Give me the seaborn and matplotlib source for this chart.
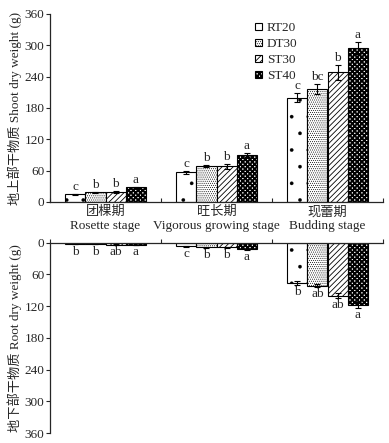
import matplotlib
matplotlib.use("Agg")
import matplotlib.pyplot as plt
import seaborn as sns
import pandas as pd
import numpy as np

stages = ["团棵期\nRosette stage", "旺长期\nVigorous growing stage", "现蕾期\nBudding stage"]
treatments = ["RT20", "DT30", "ST30", "ST40"]

shoot_RT20 = [15, 57, 200]
shoot_DT30 = [19, 69, 216]
shoot_ST30 = [19, 68, 248]
shoot_ST40 = [28, 90, 295]
shoot_err_RT20 = [1, 3, 8]
shoot_err_DT30 = [1, 2, 10]
shoot_err_ST30 = [1.5, 4, 15]
shoot_err_ST40 = [1, 4, 12]
shoot_letters_RT20 = ["c", "c", "c"]
shoot_letters_DT30 = ["b", "b", "bc"]
shoot_letters_ST30 = ["b", "b", "b"]
shoot_letters_ST40 = ["a", "a", "a"]

root_RT20 = [3, 7, 76]
root_DT30 = [3, 9, 81]
root_ST30 = [3.5, 9, 100]
root_ST40 = [4, 12, 118]
root_err_RT20 = [0.3, 1, 4]
root_err_DT30 = [0.3, 1, 3]
root_err_ST30 = [0.3, 1, 4]
root_err_ST40 = [0.4, 1, 5]
root_letters_RT20 = ["b", "c", "b"]
root_letters_DT30 = ["b", "b", "ab"]
root_letters_ST30 = ["ab", "b", "ab"]
root_letters_ST40 = ["a", "a", "a"]

yticks = [0, 60, 120, 180, 240, 300, 360]

sns.set_theme(style="ticks")
plt.rcParams["font.family"] = ["Liberation Serif", "Noto Sans CJK SC"]
plt.rcParams["hatch.linewidth"] = 0.5
plt.rcParams["axes.linewidth"] = 0.9

hatches = [".", "........", "//////", "xxxxxxx"]
hatch_lw = [0.2, 0.4, 0.6, 1.4]
FS = 9.5

def long_df(vals, errs, letters):
    rows = []
    for t, v, e, l in zip(treatments, vals, errs, letters):
        for s, vv, ee, ll in zip(stages, v, e, l):
            rows.append(dict(stage=s, trt=t, val=vv, err=ee, let=ll))
    return pd.DataFrame(rows)

shoot = long_df([shoot_RT20, shoot_DT30, shoot_ST30, shoot_ST40],
                [shoot_err_RT20, shoot_err_DT30, shoot_err_ST30, shoot_err_ST40],
                [shoot_letters_RT20, shoot_letters_DT30, shoot_letters_ST30, shoot_letters_ST40])
root = long_df([root_RT20, root_DT30, root_ST30, root_ST40],
               [root_err_RT20, root_err_DT30, root_err_ST30, root_err_ST40],
               [root_letters_RT20, root_letters_DT30, root_letters_ST30, root_letters_ST40])

fig = plt.figure(figsize=(3.89, 4.43), dpi=100)
W, H = 389, 443
ax1 = fig.add_axes([50 / W, 241 / H, 333 / W, 188 / H])
ax2 = fig.add_axes([50 / W, 10 / H, 333 / W, 190.3 / H])

def style_patch(p, i):
    p.set_hatch(hatches[i])
    if hasattr(p, "set_hatch_linewidth"):
        p.set_hatch_linewidth(hatch_lw[i])

def draw(ax, df, below):
    sns.barplot(data=df, x="stage", y="val", hue="trt", order=stages, hue_order=treatments,
                palette=["white"] * 4, edgecolor="black", linewidth=0.8, width=0.73,
                errorbar=None, ax=ax, legend=not below)
    for i, (cont, t) in enumerate(zip(ax.containers, treatments)):
        sub = df[df.trt == t].set_index("stage").loc[stages]
        for bar, (_, r) in zip(cont, sub.iterrows()):
            style_patch(bar, i)
            cx = bar.get_x() + bar.get_width() / 2
            ax.errorbar(cx, r.val, yerr=r.err, color="black", capsize=2.2, elinewidth=0.8,
                        capthick=0.8, fmt="none")
            if below:
                ax.text(cx, r.val + r.err + 2, r.let, ha="center", va="top", fontsize=FS)
            else:
                ax.text(cx, r.val + r.err + 2, r.let, ha="center", va="bottom", fontsize=FS)
    ax.set_xlim(-0.5, 2.5)
    ax.set_ylim(0, 360)
    ax.set_yticks(yticks)
    ax.tick_params(axis="y", direction="out", length=3, width=0.8, labelsize=FS, pad=1)
    ax.set_xticks([-0.5, 0.5, 1.5, 2.5], minor=True)

draw(ax1, shoot, False)
draw(ax2, root, True)

ax1.set_xlabel("")
ax1.set_ylabel("地上部干物质 Shoot dry weight (g)", fontsize=FS, labelpad=2)
ax1.tick_params(axis="x", which="major", length=0, labelsize=FS, pad=3)
ax1.tick_params(axis="x", which="minor", direction="in", length=3, width=0.8)
ax1.spines["top"].set_visible(False)
ax1.spines["right"].set_visible(False)
for lab in ax1.get_xticklabels():
    lab.set_linespacing(1.2)

leg = ax1.legend(loc="upper left", bbox_to_anchor=(0.6, 0.985), frameon=False, fontsize=FS,
                 handlelength=0.5, handleheight=0.5, handletextpad=0.4, labelspacing=0.3,
                 borderaxespad=0)
for i, h in enumerate(leg.legend_handles):
    style_patch(h, i)
    h.set_edgecolor("black")
    h.set_facecolor("white")

ax2.invert_yaxis()
ax2.set_xlabel("")
ax2.set_ylabel("地下部干物质 Root dry weight (g)", fontsize=FS, labelpad=2)
ax2.set_xticks([0, 1, 2])
ax2.set_xticklabels([])
ax2.tick_params(axis="x", which="major", length=0)
ax2.tick_params(axis="x", which="minor", direction="out", length=3, width=0.8,
                top=True, bottom=False)
ax2.spines["bottom"].set_visible(False)
ax2.spines["right"].set_visible(False)
ax2.spines["top"].set_visible(True)

fig.savefig("out.png", dpi=100)
